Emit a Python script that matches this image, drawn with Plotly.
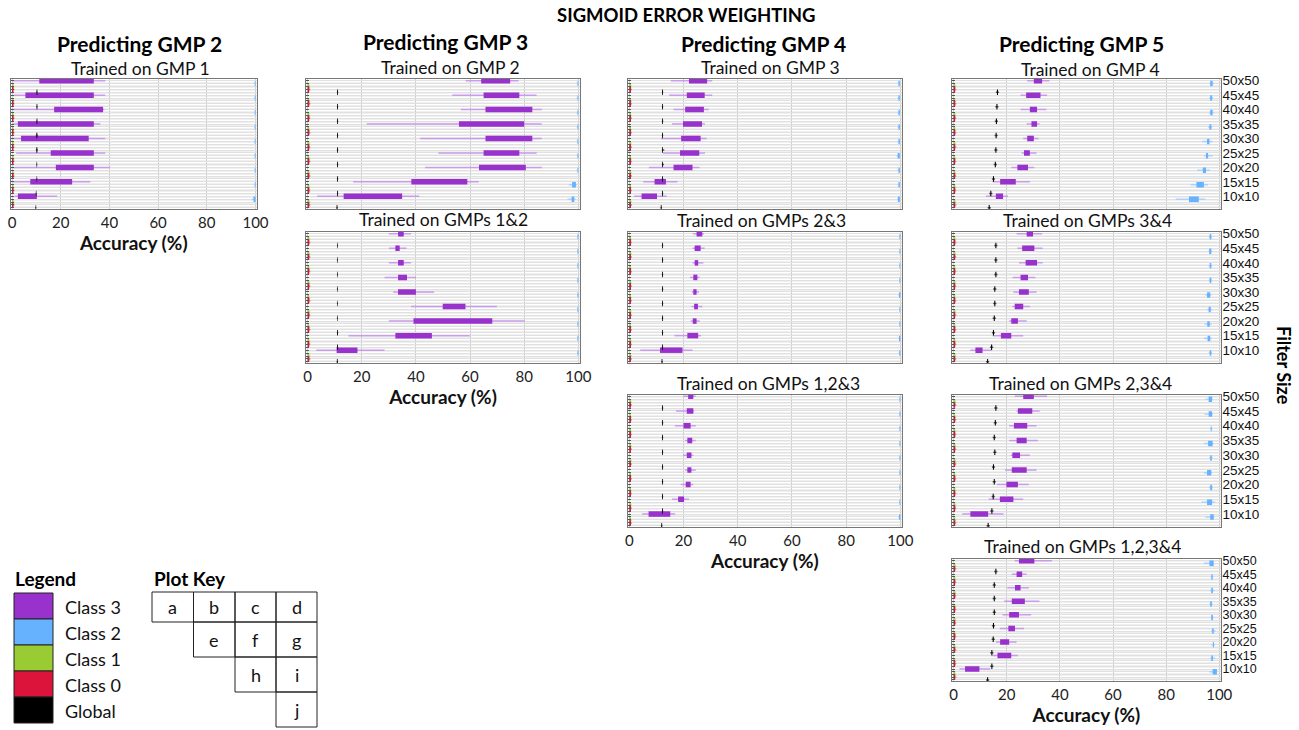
import plotly.graph_objects as go

W, H = 1299, 730
FONT = "Lato"

FILTER_SIZES = ["10x10", "15x15", "20x20", "25x25", "30x30", "35x35", "40x40", "45x45", "50x50"]
CLASS_NAMES = ["Class 3", "Class 2", "Class 1", "Class 0", "Global"]
CLASS_COLORS = ["#9932CC", "#66B2FF", "#99CC33", "#DC143C", "#000000"]
WHISKER_COLORS = ["#C99BEA", "#A8D2FF", "#C2E07F", "#EE7A90", "#555555"]
X_TICKS = [0, 20, 40, 60, 80, 100]

# Each list: (lower whisker, q1, q3, upper whisker) for 10x10 ... 50x50
A_C3 = [(1.0, 2.4, 10.2, 18.6), (0.3, 7.5, 24.7, 32.2), (0.3, 18.0, 33.6, 40.3), (1.7, 15.9, 33.6, 38.3),
        (0.3, 3.7, 31.5, 38.3), (0.3, 2.4, 33.6, 36.3), (0.3, 17.3, 37.4, 37.9), (0.7, 5.5, 33.6, 38.3),
        (0.0, 11.2, 33.6, 38.3)]
A_C2 = [(98.5, 99.2, 100.0, 100.0), (99.5, 99.7, 100.0, 100.0), (99.5, 99.7, 100.0, 100.0), (99.5, 99.7, 100.0, 100.0),
        (99.5, 99.7, 100.0, 100.0), (99.5, 99.7, 100.0, 100.0), (99.5, 99.7, 100.0, 100.0), (99.5, 99.7, 100.0, 100.0),
        (99.5, 99.7, 100.0, 100.0)]
A_GL = [(9.5, 9.7, 9.9, 10.0), (9.6, 9.8, 10.0, 10.1), (10.0, 10.1, 10.3, 10.4), (10.0, 10.1, 10.3, 10.4),
        (9.8, 10.0, 10.4, 10.6), (9.8, 10.0, 10.4, 10.6), (9.9, 10.1, 10.4, 10.5), (9.9, 10.1, 10.4, 10.5),
        (9.9, 10.1, 10.4, 10.5)]

B_C3 = [(3.5, 13.3, 34.9, 41.3), (16.8, 38.3, 59.0, 63.2), (43.4, 63.3, 80.6, 86.5), (48.3, 65.0, 78.2, 84.6),
        (41.6, 65.7, 83.0, 86.5), (21.8, 55.9, 80.0, 86.5), (56.6, 65.7, 83.0, 86.5), (53.4, 65.0, 78.2, 84.6),
        (58.4, 64.1, 74.8, 77.9)]
B_C2 = [(96.0, 97.5, 98.5, 99.0), (96.5, 97.7, 99.1, 99.5), (99.4, 99.7, 100.0, 100.0), (99.4, 99.7, 100.0, 100.0),
        (99.4, 99.7, 100.0, 100.0), (99.4, 99.7, 100.0, 100.0), (99.4, 99.7, 100.0, 100.0), (99.4, 99.7, 100.0, 100.0),
        (99.4, 99.7, 100.0, 100.0)]
B_GL = [(10.6, 10.7, 11.0, 11.1), (10.8, 10.9, 11.2, 11.3), (10.8, 10.9, 11.2, 11.3), (10.8, 10.9, 11.2, 11.3),
        (10.8, 10.9, 11.2, 11.3), (10.8, 10.9, 11.2, 11.3), (10.8, 10.9, 11.2, 11.3), (10.8, 10.9, 11.2, 11.3),
        (10.8, 10.9, 11.2, 11.3)]

C_C3 = [(1.7, 4.5, 10.2, 13.8), (5.1, 9.3, 13.5, 17.8), (7.2, 16.3, 23.3, 25.9), (12.3, 18.7, 25.8, 27.9),
        (11.7, 19.1, 26.3, 28.5), (15.7, 19.8, 26.8, 27.9), (16.3, 20.6, 27.5, 29.3), (14.7, 21.2, 27.8, 30.6),
        (15.3, 22.0, 28.7, 30.6)]
C_C2 = [(98.8, 99.1, 99.8, 100.0), (99.0, 99.3, 99.8, 100.0), (99.0, 99.3, 99.8, 100.0), (98.6, 99.0, 99.8, 100.0),
        (99.0, 99.3, 99.8, 100.0), (99.0, 99.3, 99.8, 100.0), (99.0, 99.3, 99.8, 100.0), (99.0, 99.3, 99.8, 100.0),
        (99.0, 99.3, 99.8, 100.0)]
C_GL = [(11.5, 11.6, 11.9, 12.0), (12.0, 12.1, 12.4, 12.5), (12.0, 12.1, 12.4, 12.5), (12.0, 12.1, 12.4, 12.8),
        (12.0, 12.1, 12.4, 12.9), (12.0, 12.1, 12.4, 12.5), (12.0, 12.1, 12.4, 12.5), (12.0, 12.1, 12.4, 12.5),
        (12.0, 12.1, 12.4, 12.5)]

D_C3 = [(12.2, 15.9, 18.6, 20.5), (14.7, 17.5, 23.4, 28.7), (21.7, 24.0, 28.0, 30.4), (25.6, 26.5, 28.7, 31.2),
        (26.2, 27.7, 30.2, 32.0), (27.5, 29.3, 31.4, 32.4), (25.2, 28.7, 31.4, 34.9), (25.2, 27.3, 32.7, 35.2),
        (27.7, 30.2, 33.3, 36.1)]
D_C2 = [(83.6, 88.6, 92.3, 94.8), (89.2, 91.4, 94.2, 95.8), (91.7, 93.8, 95.0, 96.6), (94.2, 95.0, 95.8, 97.5),
        (93.5, 95.4, 96.3, 97.5), (95.8, 96.3, 97.0, 97.4), (96.2, 96.6, 97.5, 97.9), (96.2, 96.6, 97.3, 97.7),
        (96.3, 96.6, 97.5, 98.0)]
D_GL = [(12.8, 13.2, 13.6, 14.0), (13.4, 13.8, 14.2, 14.6), (14.4, 14.8, 15.2, 15.6), (15.1, 15.5, 15.9, 16.3),
        (15.3, 15.7, 16.1, 16.5), (15.4, 15.8, 16.2, 16.6), (15.5, 15.9, 16.3, 16.7), (15.7, 16.1, 16.5, 16.9),
        (15.9, 16.3, 16.7, 17.1)]

E_C3 = [(3.2, 10.7, 18.4, 28.4), (15.1, 32.4, 45.9, 59.9), (30.0, 39.1, 68.2, 80.2), (38.2, 49.9, 58.3, 69.9),
        (31.6, 33.4, 40.0, 46.7), (28.4, 33.4, 36.7, 40.0), (30.0, 33.4, 35.5, 38.2), (30.0, 32.4, 34.0, 36.5),
        (30.0, 33.4, 35.5, 38.2)]
E_C2 = [(99.5, 99.7, 100.0, 100.0), (99.5, 99.7, 100.0, 100.0), (99.5, 99.7, 100.0, 100.0), (99.5, 99.7, 100.0, 100.0),
        (99.5, 99.7, 100.0, 100.0), (99.5, 99.7, 100.0, 100.0), (99.5, 99.7, 100.0, 100.0), (99.5, 99.7, 100.0, 100.0),
        (99.5, 99.7, 100.0, 100.0)]
E_GL = [(10.7, 10.8, 11.1, 11.2), (10.8, 10.9, 11.2, 11.3), (10.8, 10.9, 11.2, 11.3), (10.8, 10.9, 11.1, 11.2),
        (10.8, 10.9, 11.1, 11.2), (10.8, 10.9, 11.1, 11.2), (10.8, 10.9, 11.1, 11.2), (10.8, 10.9, 11.1, 11.2),
        (10.8, 10.9, 11.1, 11.2)]

F_C3 = [(4.0, 11.3, 19.6, 23.3), (16.6, 21.4, 25.4, 26.5), (22.6, 23.4, 24.8, 26.0), (23.0, 23.9, 25.3, 26.9),
        (23.0, 23.6, 24.8, 25.7), (22.4, 23.6, 25.1, 26.0), (23.3, 24.1, 25.4, 27.3), (23.3, 24.1, 26.3, 27.8),
        (23.5, 24.8, 26.9, 27.5)]
F_C2 = [(99.4, 99.6, 100.0, 100.0), (99.3, 99.5, 100.0, 100.0), (99.5, 99.7, 100.0, 100.0), (99.5, 99.7, 100.0, 100.0),
        (99.3, 99.5, 100.0, 100.0), (99.5, 99.7, 100.0, 100.0), (99.5, 99.7, 100.0, 100.0), (99.5, 99.7, 100.0, 100.0),
        (99.5, 99.7, 100.0, 100.0)]
F_GL = [(11.8, 11.9, 12.2, 12.3), (12.0, 12.1, 12.4, 12.5), (12.0, 12.1, 12.4, 12.5), (12.0, 12.1, 12.4, 12.5),
        (12.0, 12.1, 12.4, 12.5), (12.0, 12.1, 12.4, 12.5), (12.0, 12.1, 12.4, 12.5), (12.0, 12.1, 12.4, 12.5),
        (12.0, 12.1, 12.4, 12.5)]

G_C3 = [(6.3, 8.2, 10.9, 14.3), (14.7, 17.8, 21.7, 26.2), (20.9, 21.7, 24.2, 27.5), (22.1, 23.0, 26.2, 28.7),
        (22.5, 24.6, 28.3, 31.2), (22.2, 25.2, 28.0, 30.8), (24.6, 27.1, 31.4, 33.5), (24.0, 25.8, 30.4, 33.5),
        (23.7, 27.5, 29.9, 33.3)]
G_C2 = [(96.0, 96.4, 97.0, 97.3), (94.2, 95.6, 96.6, 97.2), (94.5, 95.5, 96.4, 97.2), (95.5, 96.0, 96.8, 97.2),
        (94.8, 95.4, 96.6, 97.0), (96.0, 96.4, 97.0, 97.3), (96.0, 96.4, 97.0, 97.3), (96.0, 96.2, 97.0, 97.3),
        (96.0, 96.4, 97.0, 97.3)]
G_GL = [(12.2, 12.6, 13.0, 13.4), (13.7, 14.1, 14.5, 14.9), (14.4, 14.8, 15.2, 15.6), (14.7, 15.1, 15.5, 15.9),
        (14.9, 15.3, 15.7, 16.1), (14.9, 15.3, 15.7, 16.1), (15.3, 15.7, 16.1, 16.5), (15.3, 15.7, 16.1, 16.5),
        (15.3, 15.7, 16.1, 16.5)]

H_C3 = [(4.7, 7.1, 15.1, 16.9), (15.7, 18.0, 20.2, 22.0), (19.0, 20.8, 22.6, 23.6), (20.6, 21.4, 22.9, 24.5),
        (19.8, 21.2, 22.9, 23.6), (20.5, 21.4, 23.2, 24.5), (16.8, 20.0, 22.6, 24.5), (17.2, 21.2, 23.6, 23.9),
        (20.0, 21.7, 23.6, 24.5)]
H_C2 = [(99.3, 99.5, 100.0, 100.0), (99.5, 99.7, 100.0, 100.0), (99.5, 99.7, 100.0, 100.0), (99.5, 99.7, 100.0, 100.0),
        (99.5, 99.7, 100.0, 100.0), (99.5, 99.7, 100.0, 100.0), (99.5, 99.7, 100.0, 100.0), (99.5, 99.7, 100.0, 100.0),
        (99.5, 99.7, 100.0, 100.0)]
H_GL = [(11.7, 11.8, 12.1, 12.2), (12.0, 12.1, 12.4, 12.5), (12.0, 12.1, 12.4, 12.5), (12.0, 12.1, 12.4, 12.5),
        (12.0, 12.1, 12.4, 12.5), (12.0, 12.1, 12.4, 12.5), (12.0, 12.1, 12.4, 12.5), (12.0, 12.1, 12.4, 12.5),
        (12.0, 12.1, 12.4, 12.5)]

I_C3 = [(3.2, 6.3, 13.0, 18.8), (13.2, 17.4, 22.5, 26.2), (16.3, 19.9, 24.2, 28.3), (19.3, 21.9, 27.5, 31.2),
        (21.5, 22.1, 25.0, 28.7), (20.9, 23.7, 27.5, 31.7), (20.9, 22.7, 27.7, 31.2), (23.7, 24.2, 29.6, 32.4),
        (23.0, 26.2, 30.2, 35.2)]
I_C2 = [(94.8, 96.6, 97.9, 98.2), (93.3, 95.4, 97.3, 98.5), (96.0, 96.6, 97.3, 97.6), (94.2, 95.4, 97.0, 97.3),
        (96.2, 96.6, 97.2, 97.5), (94.2, 95.8, 97.5, 97.8), (96.5, 96.8, 97.1, 97.4), (94.5, 96.0, 97.3, 97.6),
        (94.8, 96.0, 97.3, 97.5)]
I_GL = [(12.4, 12.8, 13.2, 13.6), (13.8, 14.2, 14.6, 15.0), (14.3, 14.7, 15.1, 15.5), (14.7, 15.1, 15.5, 15.9),
        (14.4, 14.8, 15.2, 15.6), (14.9, 15.3, 15.7, 16.1), (14.7, 15.1, 15.5, 15.9), (15.1, 15.5, 15.9, 16.3),
        (15.3, 15.7, 16.1, 16.5)]

J_C3 = [(2.2, 4.3, 9.7, 13.8), (14.7, 16.5, 21.7, 24.2), (15.9, 17.5, 20.9, 23.7), (17.4, 20.6, 23.1, 26.5),
        (18.4, 20.9, 24.6, 29.2), (19.0, 21.9, 26.8, 32.3), (20.2, 23.1, 25.2, 28.3), (21.9, 23.7, 25.8, 27.5),
        (23.0, 24.6, 30.4, 37.0)]
J_C2 = [(96.3, 97.5, 99.1, 99.2), (96.6, 97.0, 97.6, 98.5), (97.0, 97.6, 98.0, 98.3), (97.0, 97.3, 97.9, 98.6),
        (96.8, 97.0, 97.6, 97.8), (96.3, 96.6, 97.2, 97.5), (96.5, 97.0, 97.6, 98.2), (96.8, 97.0, 97.5, 97.7),
        (94.2, 96.3, 97.9, 97.9)]
J_GL = [(12.2, 12.6, 13.0, 13.4), (13.8, 14.2, 14.6, 15.0), (13.8, 14.2, 14.6, 15.0), (14.3, 14.7, 15.1, 15.5),
        (14.4, 14.8, 15.2, 15.6), (14.7, 15.1, 15.5, 15.9), (14.7, 15.1, 15.5, 15.9), (14.7, 15.1, 15.5, 15.9),
        (15.3, 15.7, 16.1, 16.5)]

# Classes 1 and 0 sit at ~0 % accuracy in every panel
CLASS1_ALL = [(0.0, 0.0, 0.6, 1.0), (0.0, 0.0, 0.6, 1.0), (0.0, 0.0, 0.6, 1.0), (0.0, 0.0, 0.6, 1.0),
              (0.0, 0.0, 0.6, 1.0), (0.0, 0.0, 0.6, 1.0), (0.0, 0.0, 0.6, 1.0), (0.0, 0.0, 0.6, 1.0),
              (0.0, 0.0, 0.6, 1.0)]
CLASS0_ALL = [(0.0, 0.0, 0.6, 1.0), (0.0, 0.0, 0.6, 1.0), (0.0, 0.0, 0.6, 1.0), (0.0, 0.0, 0.6, 1.0),
              (0.0, 0.0, 0.6, 1.0), (0.0, 0.0, 0.6, 1.0), (0.0, 0.0, 0.6, 1.0), (0.0, 0.0, 0.6, 1.0),
              (0.0, 0.0, 0.6, 1.0)]

PANEL_TITLES = ["Trained on GMP 1", "Trained on GMP 2", "Trained on GMP 3", "Trained on GMP 4",
                "Trained on GMPs 1&2", "Trained on GMPs 2&3", "Trained on GMPs 3&4",
                "Trained on GMPs 1,2&3", "Trained on GMPs 2,3&4", "Trained on GMPs 1,2,3&4"]
PANEL_DATA = [(A_C3, A_C2, A_GL), (B_C3, B_C2, B_GL), (C_C3, C_C2, C_GL), (D_C3, D_C2, D_GL),
              (E_C3, E_C2, E_GL), (F_C3, F_C2, F_GL), (G_C3, G_C2, G_GL),
              (H_C3, H_C2, H_GL), (I_C3, I_C2, I_GL), (J_C3, J_C2, J_GL)]
COLUMN_TITLES = ["Predicting GMP 2", "Predicting GMP 3", "Predicting GMP 4", "Predicting GMP 5"]
KEY_LETTERS = ["a", "b", "c", "d", "e", "f", "g", "h", "i", "j"]

# ---------------- layout geometry (pixels) ----------------
COL_X = [(10.8, 256.7), (306.3, 579.7), (628.0, 901.7), (952.3, 1220.6)]
ROW_Y = [(79, 209), (232, 363), (394.5, 527), (559, 681)]
PANEL_CELL = [(0, 0), (1, 0), (2, 0), (3, 0), (1, 1), (2, 1), (3, 1), (2, 2), (3, 2), (3, 3)]
TICKLABEL_PANELS = {0, 4, 7, 9}
RIGHT_LABEL_PANELS = [3, 6, 8, 9]
RIGHT_LABEL_SIZE = {3: 13.5, 6: 13.5, 8: 13.5, 9: 12.5}
SUBTITLE_POS = [(140, 68), (450, 67), (770, 67), (1090, 69), (443, 219), (761, 220), (1087, 220),
                (768, 383), (1080, 383), (1082, 546)]
COLTITLE_POS = [(139, 43), (445, 42), (763, 43), (1081, 43)]


def px(x):
    return x / W


def py(y):
    return 1 - y / H


fig = go.Figure()
layout = {}
annotations = []
shapes = []

positions = list(range(45))
half_positions = [p + 0.5 for p in range(-1, 45)]
label_positions = [5 * k + 4 for k in range(len(FILTER_SIZES))]

for n, (c3, c2, gl) in enumerate(PANEL_DATA):
    idx = n + 1
    xa = "x" if idx == 1 else f"x{idx}"
    ya = "y" if idx == 1 else f"y{idx}"
    col, row = PANEL_CELL[n]
    x0, x1 = COL_X[col]
    y0, y1 = ROW_Y[row]
    series = [c3, c2, CLASS1_ALL, CLASS0_ALL, gl]
    for cls, stats in enumerate(series):
        wx, wy, bx, by = [], [], [], []
        for k, (lo, q1, q3, hi) in enumerate(stats):
            pos = 5 * k + 4 - cls
            wx += [lo, hi, None]
            wy += [pos, pos, None]
            bx += [q1, q3, None]
            by += [pos, pos, None]
        fig.add_trace(go.Scatter(x=wx, y=wy, mode="lines", xaxis=xa, yaxis=ya,
                                 line=dict(color=WHISKER_COLORS[cls], width=1.5),
                                 hoverinfo="skip", showlegend=False))
        fig.add_trace(go.Scatter(x=bx, y=by, mode="lines", xaxis=xa, yaxis=ya,
                                 line=dict(color=CLASS_COLORS[cls], width=5.5),
                                 name=CLASS_NAMES[cls], showlegend=False))
    show_lbl = n in TICKLABEL_PANELS
    xkey = "xaxis" if idx == 1 else f"xaxis{idx}"
    ykey = "yaxis" if idx == 1 else f"yaxis{idx}"
    layout[xkey] = dict(domain=[px(x0), px(x1)], anchor=ya, range=[-0.5, 100.5], automargin=False,
                        tickvals=X_TICKS, showticklabels=show_lbl, ticks="",
                        tickfont=dict(family=FONT, size=15, color="#222"),
                        showgrid=True, gridcolor="#cfcfcf", gridwidth=1, zeroline=False,
                        showline=True, mirror=True, linecolor="#777", linewidth=1,
                        title=dict(text="<b>Accuracy (%)</b>" if show_lbl else "",
                                   font=dict(family=FONT, size=19, color="#111"), standoff=3))
    layout[ykey] = dict(domain=[py(y1), py(y0)], anchor=xa, range=[-0.4, 44.6], automargin=False,
                        tickvals=positions, showticklabels=False, ticks="inside", ticklen=3,
                        tickcolor="#555", tickwidth=1,
                        showgrid=True, gridcolor="#e1e1e1", gridwidth=1, zeroline=False,
                        minor=dict(tickvals=half_positions, showgrid=True, gridcolor="#f0f0f0", ticks=""),
                        showline=True, mirror=True, linecolor="#777", linewidth=1)
    sx, sy = SUBTITLE_POS[n]
    annotations.append(dict(text=PANEL_TITLES[n], x=px(sx), y=py(sy), xref="paper", yref="paper",
                            showarrow=False, xanchor="center", yanchor="middle",
                            font=dict(family=FONT, size=17.5, color="#111")))

# right-hand filter-size tick labels on overlay axes
for j, n in enumerate(RIGHT_LABEL_PANELS):
    base = n + 1
    oidx = 11 + j
    xa = f"x{base}"
    fig.add_trace(go.Scatter(x=[None], y=[None], xaxis=xa, yaxis=f"y{oidx}",
                             mode="lines", hoverinfo="skip", showlegend=False))
    layout[f"yaxis{oidx}"] = dict(overlaying=f"y{base}", anchor=xa, side="right", range=[-0.4, 44.6],
                                  automargin=False, ticklabelstandoff=1,
                                  tickvals=label_positions, ticktext=FILTER_SIZES, ticks="",
                                  showgrid=False, zeroline=False, showline=False,
                                  tickfont=dict(family="Liberation Sans", size=RIGHT_LABEL_SIZE[n], color="#111"))

for t, (cx, cy) in zip(COLUMN_TITLES, COLTITLE_POS):
    annotations.append(dict(text=f"<b>{t}</b>", x=px(cx), y=py(cy), xref="paper", yref="paper",
                            showarrow=False, xanchor="center", yanchor="middle",
                            font=dict(family=FONT, size=21, color="#000")))

annotations.append(dict(text="<b>SIGMOID ERROR WEIGHTING</b>", x=px(686), y=py(15), xref="paper", yref="paper",
                        showarrow=False, xanchor="center", yanchor="middle",
                        font=dict(family=FONT, size=18.5, color="#000")))
annotations.append(dict(text="<b>Filter Size</b>", x=px(1284), y=py(365), xref="paper", yref="paper",
                        showarrow=False, xanchor="center", yanchor="middle", textangle=90,
                        font=dict(family=FONT, size=18, color="#000")))

# ---------------- Legend block ----------------
annotations.append(dict(text="<b>Legend</b>", x=px(13), y=py(578), xref="paper", yref="paper",
                        showarrow=False, xanchor="left", yanchor="middle",
                        font=dict(family=FONT, size=19, color="#000")))
LEG_Y = [593, 619, 645, 671, 697, 723]
for i, (name, color) in enumerate(zip(CLASS_NAMES, CLASS_COLORS)):
    shapes.append(dict(type="rect", xref="paper", yref="paper", x0=px(14), x1=px(53),
                       y0=py(LEG_Y[i + 1]), y1=py(LEG_Y[i]), fillcolor=color,
                       line=dict(color="#222", width=1)))
    annotations.append(dict(text=name, x=px(63), y=py((LEG_Y[i] + LEG_Y[i + 1]) / 2 + 1), xref="paper", yref="paper",
                            showarrow=False, xanchor="left", yanchor="middle",
                            font=dict(family=FONT, size=18, color="#111")))

# ---------------- Plot key ----------------
annotations.append(dict(text="<b>Plot Key</b>", x=px(152), y=py(578), xref="paper", yref="paper",
                        showarrow=False, xanchor="left", yanchor="middle",
                        font=dict(family=FONT, size=19, color="#000")))
KEY_COLS = [152, 193.5, 235, 276, 317]
KEY_ROWS = [592, 622, 657, 692, 727]
for n, letter in enumerate(KEY_LETTERS):
    col, row = PANEL_CELL[n]
    cx0, cx1 = KEY_COLS[col], KEY_COLS[col + 1]
    cy0, cy1 = KEY_ROWS[row], KEY_ROWS[row + 1]
    shapes.append(dict(type="rect", xref="paper", yref="paper", x0=px(cx0), x1=px(cx1),
                       y0=py(cy1), y1=py(cy0), line=dict(color="#222", width=1), fillcolor="rgba(0,0,0,0)"))
    annotations.append(dict(text=letter, x=px((cx0 + cx1) / 2), y=py((cy0 + cy1) / 2), xref="paper", yref="paper",
                            showarrow=False, xanchor="center", yanchor="middle",
                            font=dict(family=FONT, size=18, color="#111")))

fig.update_layout(width=W, height=H, margin=dict(l=0, r=0, t=0, b=0, autoexpand=False),
                  paper_bgcolor="white", plot_bgcolor="white", showlegend=False,
                  font=dict(family=FONT), annotations=annotations, shapes=shapes, **layout)

fig.write_html("out.html")
